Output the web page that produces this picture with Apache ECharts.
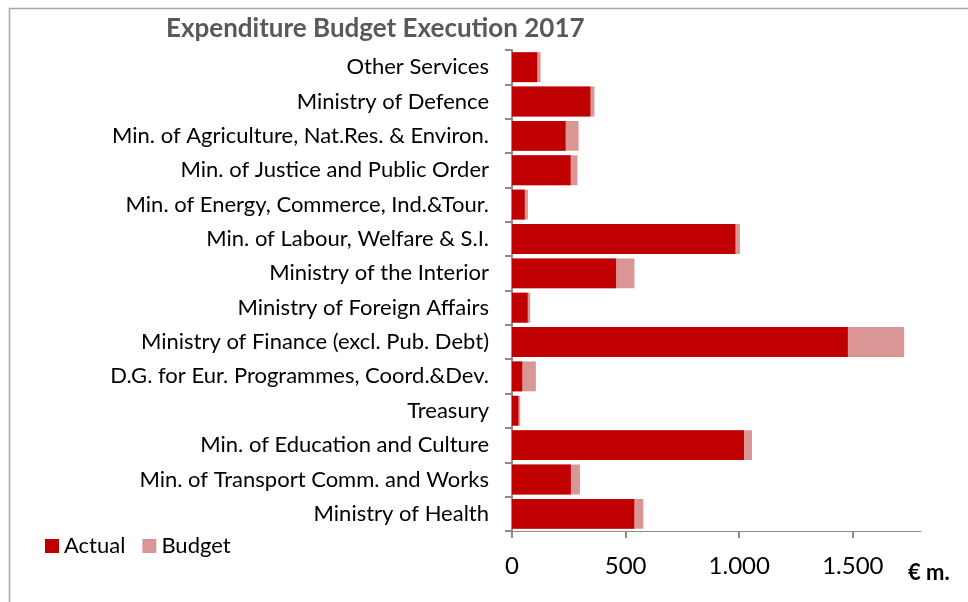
<!DOCTYPE html>
<html>
<head>
<meta charset="utf-8">
<script src="https://cdn.jsdelivr.net/npm/echarts@6/dist/echarts.min.js"></script>
<style>html,body{margin:0;padding:0;background:#fff}#chart{width:968px;height:602px}</style>
</head>
<body>
<div id="chart"></div>
<script>
// Categories, top to bottom
const categories = [
  "Other Services",
  "Ministry of Defence",
  "Min. of Agriculture, Nat.Res. & Environ.",
  "Min. of Justice and Public Order",
  "Min. of Energy, Commerce, Ind.&Tour.",
  "Min. of Labour, Welfare & S.I.",
  "Ministry of the Interior",
  "Ministry of Foreign Affairs",
  "Ministry of Finance (excl. Pub. Debt)",
  "D.G. for Eur. Programmes, Coord.&Dev.",
  "Treasury",
  "Min. of Education and Culture",
  "Min. of Transport Comm. and Works",
  "Ministry of Health"
];
// € million
const actual = [111, 345, 236, 258, 56, 983, 458, 69, 1478, 45, 28, 1021, 259, 538];
const budget = [126, 363, 293, 288, 70, 1003, 539, 80, 1726, 105, 36, 1056, 299, 578];
const xTicks = [0, 500, 1000, 1500];
const xMax = 1800;

const FONT = "Lato";
const chart = echarts.init(document.getElementById('chart'), null, {renderer: 'canvas'});
chart.setOption({
  animation: false,
  backgroundColor: '#ffffff',
  textStyle: {fontFamily: FONT},
  title: {
    text: 'Expenditure Budget Execution 2017',
    left: 166, top: 16, padding: 0,
    textStyle: {fontFamily: FONT, fontSize: 26, fontWeight: 'bold', color: '#595959'}
  },
  legend: {
    data: ['Actual', 'Budget'],
    left: 45, top: 535, padding: 0,
    icon: 'rect', itemWidth: 14, itemHeight: 14, itemGap: 17,
    textStyle: {fontFamily: FONT, fontSize: 22, color: '#000'}
  },
  grid: {left: 512, right: 47, top: 50, bottom: 71, containLabel: false},
  xAxis: {
    type: 'value', min: 0, max: xMax,
    axisLine: {show: true, lineStyle: {color: '#8c8c8c', width: 1}},
    axisTick: {show: true, length: 7, customValues: xTicks, lineStyle: {color: '#8c8c8c', width: 2}},
    axisLabel: {
      customValues: xTicks, margin: 23, fontFamily: FONT, fontSize: 24, color: '#000',
      formatter: v => String(v).replace(/\B(?=(\d{3})+(?!\d))/g, '.')
    },
    splitLine: {show: false}
  },
  yAxis: {
    type: 'category', inverse: true, data: categories,
    axisLine: {show: true, lineStyle: {color: '#8c8c8c', width: 2}},
    axisTick: {show: true, length: 7, lineStyle: {color: '#8c8c8c', width: 2}},
    axisLabel: {margin: 23, fontFamily: FONT, fontSize: 22, color: '#000'}
  },
  series: [
    {
      name: 'Budget', type: 'bar', data: budget,
      barCategoryGap: '13%', barGap: '-100%', z: 1,
      itemStyle: {color: '#D99694'}
    },
    {
      name: 'Actual', type: 'bar', data: actual,
      barCategoryGap: '13%', barGap: '-100%', z: 2,
      itemStyle: {color: '#C00000'}
    }
  ],
  graphic: [
    {type: 'rect', shape: {x: 9.5, y: 8.5, width: 1000, height: 700}, style: {fill: 'none', stroke: '#a6a6a6', lineWidth: 1.5}, z: 100, silent: true},
    {type: 'text', left: 908, top: 562, style: {text: '€ m.', fontFamily: FONT, fontSize: 22, fontWeight: 'bold', fill: '#000'}}
  ]
});
</script>
</body>
</html>
